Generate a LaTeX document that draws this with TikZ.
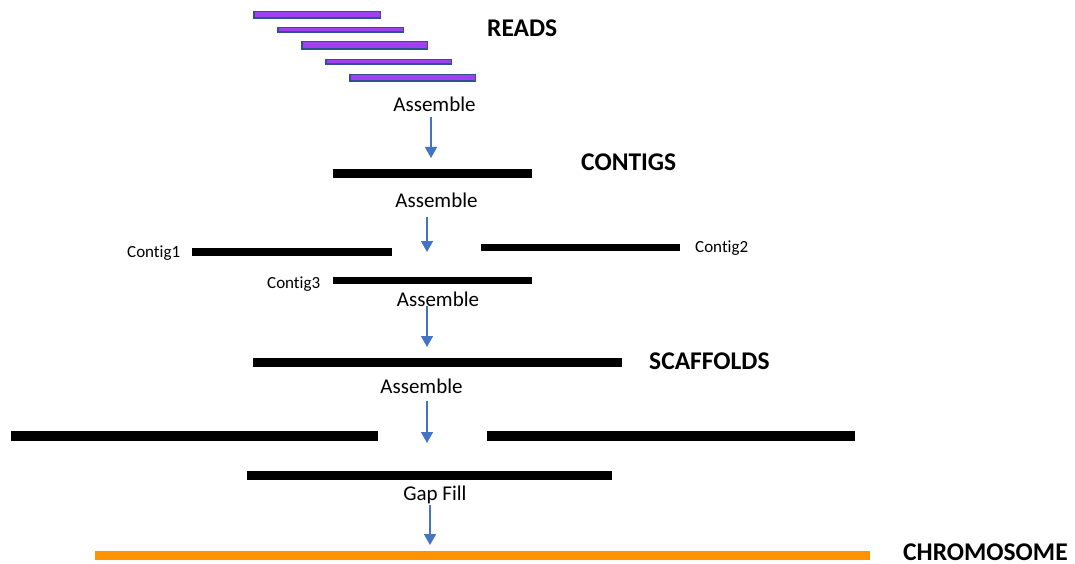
\documentclass[tikz,border=0pt]{standalone}
\usepackage{fontspec}
\setmainfont{Carlito}[Ligatures=NoCommon]
\usetikzlibrary{arrows.meta}

\definecolor{readfill}{HTML}{A040F0}
\definecolor{readline}{HTML}{2F528F}
\definecolor{flowblue}{HTML}{4472C4}
\definecolor{chromo}{HTML}{FF9400}

\tikzset{
  bar/.style={line width=9pt},
  flow/.style={flowblue, line width=1.5pt, -{Triangle[width=12pt,length=11pt]}},
  stagelbl/.style={font=\bfseries\fontsize{25.5}{30}\selectfont, anchor=base west, inner sep=0pt},
  asm/.style={font=\fontsize{21}{25}\selectfont, anchor=base, inner sep=0pt},
  ctg/.style={font=\fontsize{17}{20}\selectfont, anchor=base west, inner sep=0pt},
}

\begin{document}
\begin{tikzpicture}[x=1pt, y=-1pt]
  \useasboundingbox (0,0) rectangle (1075,564);

  % reads
  \foreach \a/\b/\c/\d in {253/381/11/19, 277/404/27/33, 301/428/41/50, 325/452/59/65, 349/476/74/82}
    \draw[readline, fill=readfill, line width=1.5pt] (\a+0.75,\c+0.75) rectangle (\b-0.75,\d-0.75);
  \node[stagelbl] (reads) at (487,37) {READS};
  \node[asm] (asm1) at (434.5,112) {Assemble};

  % contigs
  \draw[bar] (333,173.5) -- (532,173.5);
  \node[stagelbl] (contigs) at (581,171) {CONTIGS};
  \node[asm] (asm2) at (436.5,207) {Assemble};

  \draw[bar, line width=8pt] (192,252) -- (392,252);
  \draw[bar, line width=7.5pt] (481,247.5) -- (680,247.5);
  \draw[bar, line width=7.5pt] (333,280.5) -- (532,280.5);
  \node[ctg] (c1) at (127,257) {Contig1};
  \node[ctg] (c2) at (695,252) {Contig2};
  \node[ctg] (c3) at (267,288) {Contig3};
  \node[asm] (asm3) at (438,306) {Assemble};

  % scaffolds
  \draw[bar] (253,362.5) -- (622,362.5);
  \node[stagelbl] (scaff) at (649,369) {SCAFFOLDS};
  \node[asm] (asm4) at (421.5,393) {Assemble};

  \draw[bar, line width=10pt] (11,435.5) -- (378,435.5);
  \draw[bar, line width=10pt] (487,435.5) -- (855,435.5);
  \draw[bar] (247,475.5) -- (612,475.5);
  \node[asm] (gap) at (435,500) {Gap Fill};

  % chromosome
  \draw[bar, chromo] (95,555.5) -- (870,555.5);
  \node[stagelbl] (chrom) at (903,560) {CHROMOSOME};

  % arrows between stages
  \coordinate (tip1) at (431,158);
  \coordinate (tip2) at (427,252);
  \coordinate (tip3) at (427,347);
  \coordinate (tip4) at (427,443);
  \coordinate (tip5) at (430,545);
  \draw[flow, shorten <=5pt] (asm1.south -| tip1) -- (tip1);
  \draw[flow, shorten <=10pt] (asm2.south -| tip2) -- (tip2);
  \draw[flow] (asm3.south -| tip3) -- (tip3);
  \draw[flow, shorten <=8pt] (asm4.south -| tip4) -- (tip4);
  \draw[flow, shorten <=1pt] (gap.south -| tip5) -- (tip5);
\end{tikzpicture}
\end{document}
